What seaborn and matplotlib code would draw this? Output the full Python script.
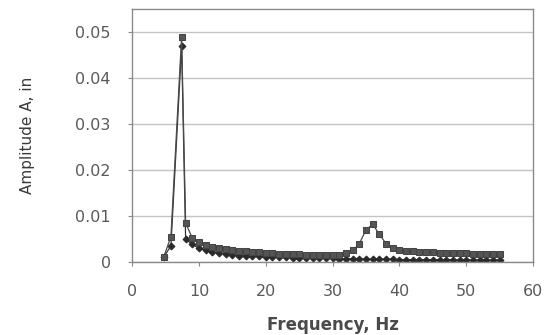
import numpy as np
import pandas as pd
import matplotlib
matplotlib.use("Agg")
import matplotlib.pyplot as plt
import seaborn as sns

# -------------------------------
# Data
# -------------------------------
freq = [4.7, 5.8, 7.4, 8.0, 9, 10, 11, 12, 13, 14, 15, 16, 17, 18, 19, 20,
        21, 22, 23, 24, 25, 26, 27, 28, 29, 30, 31, 32, 33, 34, 35,
        36, 37, 38, 39, 40, 41, 42, 43, 44, 45, 46, 47, 48, 49, 50,
        51, 52, 53, 54, 55]

amp_upper = [0.0010, 0.0055, 0.0490, 0.0085, 0.0052, 0.0043, 0.0037, 0.0033,
             0.0030, 0.0028, 0.0026, 0.0024, 0.0023, 0.0022, 0.0021, 0.0020,
             0.0019, 0.0018, 0.0018, 0.0017, 0.0017, 0.0016, 0.0016, 0.0015,
             0.0015, 0.0015, 0.0016, 0.0019, 0.0025, 0.0040, 0.0070, 0.0082,
             0.0060, 0.0040, 0.0030, 0.0026, 0.0024, 0.0023, 0.0022, 0.0021,
             0.0021, 0.0020, 0.0020, 0.0019, 0.0019, 0.0019, 0.0018, 0.0018,
             0.0018, 0.0017, 0.0017]

amp_lower = [0.0010, 0.0035, 0.0470, 0.0050, 0.0038, 0.0030, 0.0025, 0.0022,
             0.0019, 0.0017, 0.0015, 0.0014, 0.0013, 0.0012, 0.0012, 0.0011,
             0.0011, 0.0010, 0.0010, 0.0009, 0.0009, 0.0009, 0.0008, 0.0008,
             0.0008, 0.0008, 0.0007, 0.0007, 0.0007, 0.0007, 0.0006, 0.0006,
             0.0006, 0.0006, 0.0006, 0.0005, 0.0005, 0.0005, 0.0005, 0.0005,
             0.0005, 0.0005, 0.0005, 0.0005, 0.0004, 0.0004, 0.0004, 0.0004,
             0.0004, 0.0004, 0.0004]

df = pd.DataFrame({"freq": freq, "upper": amp_upper, "lower": amp_lower})

# -------------------------------
# Plot
# -------------------------------
sns.set_theme(style="white")
plt.rcParams["font.family"] = ["DejaVu Sans"]

fig = plt.figure(figsize=(5.53, 3.35), dpi=100)
ax = fig.add_axes([0.239, 0.218, 0.725, 0.755])

ax.yaxis.grid(True, color="#c4c4c4", linewidth=1.0)
ax.set_axisbelow(True)

sns.lineplot(data=df, x="freq", y="lower", ax=ax, color="#333333",
             linewidth=0.9, marker="D", markersize=3.5,
             markeredgecolor="#2a2a2a", markerfacecolor="#2a2a2a")
sns.lineplot(data=df, x="freq", y="upper", ax=ax, color="#4a4a4a",
             linewidth=0.9, marker="s", markersize=4.5,
             markeredgecolor="#444444", markerfacecolor="#555555")

ax.set_xlim(0, 60)
ax.set_ylim(0, 0.055)
ax.set_xticks([0, 10, 20, 30, 40, 50, 60])
ax.set_yticks([0, 0.01, 0.02, 0.03, 0.04, 0.05])
ax.set_yticklabels(["0", "0.01", "0.02", "0.03", "0.04", "0.05"])

for side in ["left", "right", "top", "bottom"]:
    ax.spines[side].set_color("#8a8a8a")
    ax.spines[side].set_linewidth(1.0)

ax.tick_params(axis="both", direction="out", length=3, width=0.8,
               color="#8a8a8a", labelsize=11.5, labelcolor="#5a5a5a",
               bottom=True, left=True)
ax.tick_params(axis="x", pad=13)
ax.tick_params(axis="y", pad=12.5)

ax.set_xlabel("Frequency, Hz", fontsize=12, fontweight="bold",
              color="#4a4a4a", labelpad=12)
ax.set_ylabel("Amplitude A, in", fontsize=11, color="#3a3a3a",
              labelpad=29)

plt.savefig("out.png", dpi=100)
plt.close()
